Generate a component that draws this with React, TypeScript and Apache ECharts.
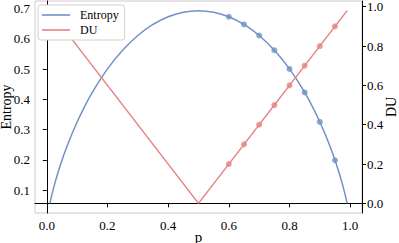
import React, { useEffect, useRef } from "react";
import * as echarts from "echarts";

const entropyP = [0.01, 0.02, 0.03, 0.04, 0.05, 0.06, 0.08, 0.1, 0.12, 0.15, 0.2, 0.25, 0.3, 0.35, 0.4, 0.45, 0.5, 0.55, 0.6, 0.65, 0.7, 0.75, 0.8, 0.85, 0.88, 0.9, 0.92, 0.94, 0.95, 0.96, 0.97, 0.98, 0.99];
const entropyH = [0.056, 0.098, 0.1347, 0.1679, 0.1985, 0.227, 0.2788, 0.3251, 0.3669, 0.4227, 0.5004, 0.5623, 0.6109, 0.6474, 0.673, 0.6881, 0.6931, 0.6881, 0.673, 0.6474, 0.6109, 0.5623, 0.5004, 0.4227, 0.3669, 0.3251, 0.2788, 0.227, 0.1985, 0.1679, 0.1347, 0.098, 0.056];
const duP = [0.01, 0.5, 0.99];
const duV = [0.98, 0.0, 0.98];
const markP = [0.6, 0.65, 0.7, 0.75, 0.8, 0.85, 0.9, 0.95];
const markH = [0.673, 0.6474, 0.6109, 0.5623, 0.5004, 0.4227, 0.3251, 0.1985];
const markDU = [0.2, 0.3, 0.4, 0.5, 0.6, 0.7, 0.8, 0.9];
const xTicks = [0, 0.2, 0.4, 0.6, 0.8, 1.0];
const entropyTicks = [0.1, 0.2, 0.3, 0.4, 0.5, 0.6, 0.7];
const duTicks = [0, 0.2, 0.4, 0.6, 0.8, 1.0];

const BLUE = "#7193c4";
const RED = "#e68383";
const FONT = "Liberation Serif";

export default function App() {
  const ref = useRef<HTMLDivElement>(null);
  useEffect(() => {
    if (!ref.current) return;
    const chart = echarts.init(ref.current, null, { renderer: "svg" });
    const tickStyle = { color: "#000", fontFamily: FONT, fontSize: 13 };
    const fmt = (v: number) => v.toFixed(1);
    chart.setOption({
      animation: false,
      textStyle: { fontFamily: FONT },
      grid: {
        left: 35, right: 37, top: 1, bottom: 30,
        show: true, borderColor: "#cccccc", borderWidth: 1,
        containLabel: false, outerBoundsMode: "none",
      },
      legend: {
        data: ["Entropy", "DU"],
        orient: "vertical",
        left: 38,
        top: 5,
        icon: "rect",
        itemWidth: 28,
        itemHeight: 1.6,
        itemGap: 3,
        padding: [4, 6, 4, 4],
        backgroundColor: "#fff",
        borderColor: "#d0d0d0",
        borderWidth: 1,
        borderRadius: 3,
        textStyle: { fontFamily: FONT, fontSize: 12, color: "#000", padding: [0, 0, 0, 5] },
      },
      xAxis: {
        type: "value",
        min: -0.039,
        max: 1.039,
        name: "p",
        nameLocation: "middle",
        nameGap: 16,
        nameMoveOverlap: false,
        nameTextStyle: { fontFamily: FONT, fontSize: 15, color: "#000" },
        axisLine: { show: true, lineStyle: { color: "#000", width: 1 } },
        axisTick: { show: true, customValues: xTicks, length: 4, lineStyle: { color: "#000" } },
        axisLabel: { customValues: xTicks, formatter: fmt, margin: 6, ...tickStyle },
        splitLine: { show: false },
      },
      yAxis: [
        {
          type: "value",
          min: 0.024,
          max: 0.725,
          name: "Entropy",
          nameLocation: "middle",
          nameGap: 22,
          nameMoveOverlap: false,
          nameTextStyle: { fontFamily: FONT, fontSize: 14, color: "#000" },
          axisLine: { show: true, lineStyle: { color: "#000", width: 1 } },
          axisTick: { show: true, customValues: entropyTicks, length: 4, lineStyle: { color: "#000" } },
          axisLabel: { customValues: entropyTicks, formatter: fmt, margin: 5, ...tickStyle },
          splitLine: { show: false },
        },
        {
          type: "value",
          min: -0.049,
          max: 1.029,
          position: "right",
          name: "DU",
          nameLocation: "middle",
          nameGap: 22,
          nameMoveOverlap: false,
          nameTextStyle: { fontFamily: FONT, fontSize: 14, color: "#000" },
          axisLine: { show: true, lineStyle: { color: "#000", width: 1 } },
          axisTick: { show: true, customValues: duTicks, length: 4, lineStyle: { color: "#000" } },
          axisLabel: { customValues: duTicks, formatter: fmt, margin: 5, ...tickStyle },
          splitLine: { show: false },
        },
      ],
      series: [
        {
          name: "Entropy",
          type: "line",
          yAxisIndex: 0,
          smooth: true,
          showSymbol: false,
          symbol: "none",
          lineStyle: { color: BLUE, width: 1.5 },
          itemStyle: { color: BLUE },
          data: entropyP.map((p, i) => [p, entropyH[i]]),
        },
        {
          name: "DU",
          type: "line",
          yAxisIndex: 1,
          showSymbol: false,
          symbol: "none",
          lineStyle: { color: RED, width: 1.5 },
          itemStyle: { color: RED },
          data: duP.map((p, i) => [p, duV[i]]),
        },
        {
          name: "EntropyPts",
          type: "scatter",
          yAxisIndex: 0,
          symbolSize: 6,
          itemStyle: { color: BLUE },
          data: markP.map((p, i) => [p, markH[i]]),
        },
        {
          name: "DUPts",
          type: "scatter",
          yAxisIndex: 1,
          symbolSize: 6,
          itemStyle: { color: RED },
          data: markP.map((p, i) => [p, markDU[i]]),
        },
      ],
    });
    return () => chart.dispose();
  }, []);
  return <div ref={ref} style={{ width: 399, height: 243, position: "absolute", left: 0, top: 0 }} />;
}
